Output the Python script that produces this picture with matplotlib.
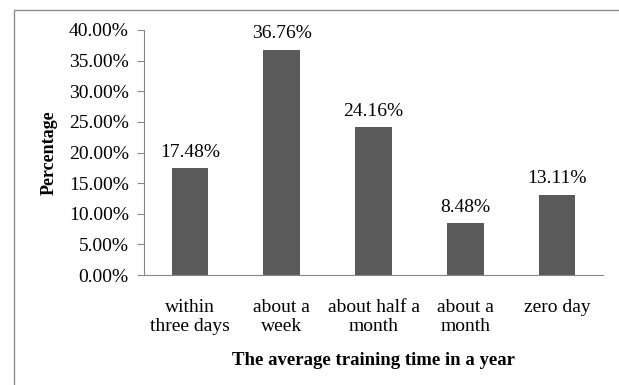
import matplotlib
matplotlib.use("Agg")
import matplotlib.pyplot as plt
from matplotlib.patches import Rectangle
from matplotlib.ticker import FuncFormatter

# training time categories and share of respondents
categories = ["within\nthree days", "about a\nweek", "about half a\nmonth", "about a\nmonth", "zero day"]
shares = [17.48, 36.76, 24.16, 8.48, 13.11]
yticks = [0, 5, 10, 15, 20, 25, 30, 35, 40]

plt.rcParams["font.family"] = ["Liberation Serif", "DejaVu Serif"]

fig = plt.figure(figsize=(6.19, 3.85), dpi=100)
ax = fig.add_axes([144 / 619, 110 / 385, 459 / 619, 245 / 385])

# light frame around the whole chart (runs off the right and bottom edges)
fig.patches.append(Rectangle((14 / 619, -0.1), 1.2, 1 - 10 / 385 + 0.1,
                             transform=fig.transFigure, fill=False,
                             edgecolor="#8c8c8c", linewidth=1.0))

x = range(len(categories))
bars = ax.bar(x, shares, width=0.4, color="#5a5a5a")
for b, v in zip(bars, shares):
    ax.text(b.get_x() + b.get_width() / 2, v + 1.2, f"{v:.2f}%",
            ha="center", va="bottom", fontsize=14)

ax.set_xlim(-0.5, len(categories) - 0.5)
ax.set_ylim(0, 40)
ax.set_yticks(yticks)
ax.yaxis.set_major_formatter(FuncFormatter(lambda v, p: f"{v:.2f}%"))
ax.set_xticks(list(x))
ax.set_xticklabels(categories, fontsize=14, linespacing=1.18)

for s in ["top", "right"]:
    ax.spines[s].set_visible(False)
for s in ["left", "bottom"]:
    ax.spines[s].set_color("#868686")
ax.tick_params(axis="y", length=5, color="#868686", labelsize=14, pad=6)
ax.tick_params(axis="x", length=0, pad=17)

ax.set_ylabel("Percentage", fontsize=13, fontweight="bold", labelpad=8)
ax.set_xlabel("The average training time in a year", fontsize=13.5,
              fontweight="bold", labelpad=12)

fig.savefig("out.png", dpi=100)
